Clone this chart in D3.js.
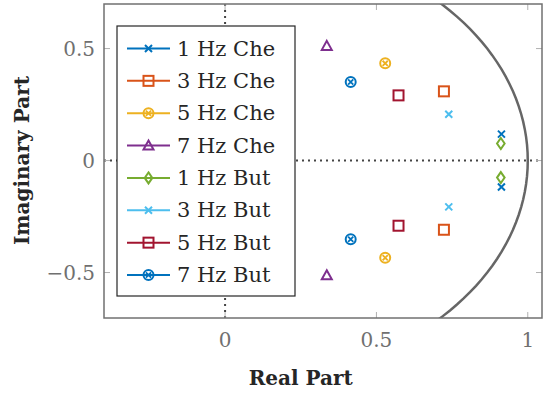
<!DOCTYPE html>
<html>
<head>
<meta charset="utf-8">
<script src="https://cdn.jsdelivr.net/npm/d3@7"></script>
<style>
  body { margin: 0; background: #fff; }
  svg { display: block; font-family: "DejaVu Serif", serif; }
</style>
</head>
<body>
<div id="chart"></div>
<script>
// series names, in legend order
const names = ["1 Hz Che", "3 Hz Che", "5 Hz Che", "7 Hz Che", "1 Hz But", "3 Hz But", "5 Hz But", "7 Hz But"]
const colors = ["#0072BD", "#D95319", "#EDB120", "#7E2F8E", "#77AC30", "#4DBEEE", "#A2142F", "#0072BD"]
const markers = ["x", "square", "circlex", "triangle", "diamond", "x", "square", "circlex"]

// poles: real part and positive imaginary part (conjugate pairs)
const realParts = [0.913, 0.723, 0.529, 0.336, 0.911, 0.739, 0.573, 0.415]
const imagParts = [0.118, 0.309, 0.434, 0.512, 0.076, 0.207, 0.291, 0.351]

const xTicks = [0, 0.5, 1]
const yTicks = [-0.5, 0, 0.5]

const W = 550, H = 395
const box = { left: 104, right: 542, top: 4, bottom: 318 }

const svg = d3.select("#chart").append("svg")
  .attr("width", W).attr("height", H)

const x = d3.scaleLinear().domain([-0.4, 1.047]).range([box.left, box.right])
const y = d3.scaleLinear().domain([-0.703, 0.699]).range([box.bottom, box.top])

svg.append("defs").append("clipPath").attr("id", "clip")
  .append("rect")
  .attr("x", box.left).attr("y", box.top)
  .attr("width", box.right - box.left).attr("height", box.bottom - box.top)

const plot = svg.append("g").attr("clip-path", "url(#clip)")

// zero lines
plot.append("line")
  .attr("x1", x(0)).attr("x2", x(0)).attr("y1", box.top).attr("y2", box.bottom)
  .attr("stroke", "#444").attr("stroke-width", 2).attr("stroke-dasharray", "2,4")
plot.append("line")
  .attr("x1", box.left).attr("x2", box.right).attr("y1", y(0)).attr("y2", y(0))
  .attr("stroke", "#444").attr("stroke-width", 2).attr("stroke-dasharray", "2,4")

// unit circle
const circ = d3.range(0, 361, 2).map(a => [Math.cos(a * Math.PI / 180), Math.sin(a * Math.PI / 180)])
plot.append("path")
  .attr("d", d3.line().x(d => x(d[0])).y(d => y(d[1]))(circ))
  .attr("fill", "none").attr("stroke", "#666").attr("stroke-width", 2.5)

// ticks (inside, all four sides)
const tickLen = 6
const tickCol = "#b0b0b0"
const axes = svg.append("g")
xTicks.forEach(t => {
  axes.append("line").attr("x1", x(t)).attr("x2", x(t)).attr("y1", box.bottom).attr("y2", box.bottom - tickLen).attr("stroke", tickCol)
  axes.append("line").attr("x1", x(t)).attr("x2", x(t)).attr("y1", box.top).attr("y2", box.top + tickLen).attr("stroke", tickCol)
  axes.append("text").attr("x", x(t)).attr("y", box.bottom + 29)
    .attr("text-anchor", "middle").attr("font-size", 20).attr("fill", "#707070")
    .text(String(t))
})
yTicks.forEach(t => {
  axes.append("line").attr("x1", box.left).attr("x2", box.left + tickLen).attr("y1", y(t)).attr("y2", y(t)).attr("stroke", tickCol)
  axes.append("line").attr("x1", box.right).attr("x2", box.right - tickLen).attr("y1", y(t)).attr("y2", y(t)).attr("stroke", tickCol)
  axes.append("text").attr("x", box.left - 9).attr("y", y(t) + 7)
    .attr("text-anchor", "end").attr("font-size", 20).attr("fill", "#707070")
    .text(t < 0 ? "\u2212" + Math.abs(t) : String(t))
})

function drawMarker(g, type, cx, cy, color) {
  const s = 5
  if (type === "x") {
    g.append("path").attr("d", `M${cx - 3.5},${cy - 3.5}L${cx + 3.5},${cy + 3.5}M${cx - 3.5},${cy + 3.5}L${cx + 3.5},${cy - 3.5}`)
      .attr("stroke", color).attr("stroke-width", 2).attr("fill", "none")
  } else if (type === "square") {
    g.append("rect").attr("x", cx - s).attr("y", cy - s).attr("width", 2 * s).attr("height", 2 * s)
      .attr("stroke", color).attr("stroke-width", 2).attr("fill", "none")
  } else if (type === "circlex") {
    g.append("circle").attr("cx", cx).attr("cy", cy).attr("r", s)
      .attr("stroke", color).attr("stroke-width", 2).attr("fill", "none")
    const d = 2.6
    g.append("path").attr("d", `M${cx - d},${cy - d}L${cx + d},${cy + d}M${cx - d},${cy + d}L${cx + d},${cy - d}`)
      .attr("stroke", color).attr("stroke-width", 1.8)
  } else if (type === "triangle") {
    g.append("path").attr("d", `M${cx},${cy - 5}L${cx + 5},${cy + 4}L${cx - 5},${cy + 4}Z`)
      .attr("stroke", color).attr("stroke-width", 2).attr("fill", "none")
  } else if (type === "diamond") {
    g.append("path").attr("d", `M${cx},${cy - 5.5}L${cx + 3.8},${cy}L${cx},${cy + 5.5}L${cx - 3.8},${cy}Z`)
      .attr("stroke", color).attr("stroke-width", 2).attr("fill", "none")
  }
}

// poles
const pts = plot.append("g")
names.forEach((n, i) => {
  drawMarker(pts, markers[i], x(realParts[i]), y(imagParts[i]), colors[i])
  drawMarker(pts, markers[i], x(realParts[i]), y(-imagParts[i]), colors[i])
})

// axes box
svg.append("rect")
  .attr("x", box.left).attr("y", box.top)
  .attr("width", box.right - box.left).attr("height", box.bottom - box.top)
  .attr("fill", "none").attr("stroke", "#707070").attr("stroke-width", 1.5)

// axis labels
svg.append("text").attr("x", x(0.25)).attr("y", 385)
  .attr("text-anchor", "middle").attr("font-size", 20).attr("font-weight", "bold").attr("fill", "#262626")
  .text("Real Part")
svg.append("text")
  .attr("transform", `translate(29,${y(0)}) rotate(-90)`)
  .attr("text-anchor", "middle").attr("font-size", 20).attr("font-weight", "bold").attr("fill", "#262626")
  .text("Imaginary Part")

// legend
const leg = svg.append("g")
leg.append("rect").attr("x", 117).attr("y", 26).attr("width", 178).attr("height", 270)
  .attr("fill", "#fff").attr("stroke", "#262626").attr("stroke-width", 1.2)
const rowY = d3.scaleLinear().domain([0, names.length - 1]).range([48.5, 275])
names.forEach((n, i) => {
  const ry = rowY(i)
  leg.append("line").attr("x1", 127).attr("x2", 170).attr("y1", ry).attr("y2", ry)
    .attr("stroke", colors[i]).attr("stroke-width", 2)
  drawMarker(leg, markers[i], 148.5, ry, colors[i])
  leg.append("text").attr("x", 177).attr("y", ry + 7)
    .attr("font-size", 21).attr("fill", "#262626").text(n)
})
</script>
</body>
</html>
